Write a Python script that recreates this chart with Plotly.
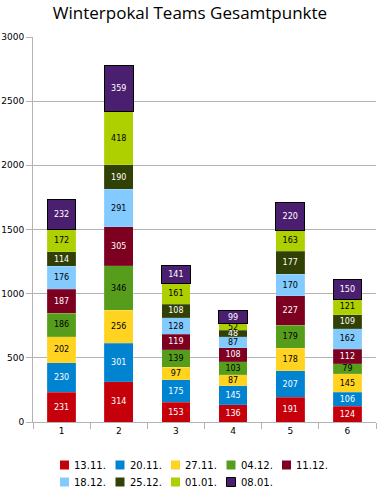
import plotly.graph_objects as go

categories = ["1", "2", "3", "4", "5", "6"]
series_names = ["13.11.", "20.11.", "27.11.", "04.12.", "11.12.", "18.12.", "25.12.", "01.01.", "08.01."]
s_1311 = [231, 314, 153, 136, 191, 124]
s_2011 = [230, 301, 175, 145, 207, 106]
s_2711 = [202, 256, 97, 87, 178, 145]
s_0412 = [186, 346, 139, 103, 179, 79]
s_1112 = [187, 305, 119, 108, 227, 112]
s_1812 = [176, 291, 128, 87, 170, 162]
s_2512 = [114, 190, 108, 48, 177, 109]
s_0101 = [172, 418, 161, 52, 163, 121]
s_0801 = [232, 359, 141, 99, 220, 150]
series_values = [s_1311, s_2011, s_2711, s_0412, s_1112, s_1812, s_2512, s_0101, s_0801]
y_ticks = [0, 500, 1000, 1500, 2000, 2500, 3000]

colors = ["#c5000b", "#0084d1", "#ffd320", "#579d1c", "#7e0021",
          "#83caff", "#314004", "#aecf00", "#4b1f6f"]
text_colors = ["white", "white", "black", "black", "white",
               "black", "white", "black", "white"]

W, H = 380, 488
ML, MR, MT, MB = 33, 4, 37, 66
PW, PH = W - ML - MR, H - MT - MB


def px_x(px):
    return (px - ML) / PW


def px_y(py):
    return (H - MB - py) / PH


fig = go.Figure()
for i, (name, vals) in enumerate(zip(series_names, series_values)):
    last = i == len(series_names) - 1
    fig.add_trace(go.Bar(
        x=categories, y=vals, name=name,
        marker=dict(color=colors[i],
                    line=dict(color="black" if last else "rgba(255,255,255,0.25)",
                              width=1 if last else 0.5)),
        text=[str(v) for v in vals],
        textposition="inside", insidetextanchor="middle", textangle=0,
        textfont=dict(color=text_colors[i], size=8, family="DejaVu Sans"),
    ))

# legend drawn as swatches + labels (5 per row, two rows)
shapes = []
annotations = []
for i, name in enumerate(series_names):
    row, col = divmod(i, 5)
    sx = 60 + col * 55.5
    sy = 465 + row * 17
    last = i == len(series_names) - 1
    shapes.append(dict(type="rect", xref="paper", yref="paper",
                       x0=px_x(sx), x1=px_x(sx + 9), y0=px_y(sy - 4.5), y1=px_y(sy + 4.5),
                       fillcolor=colors[i],
                       line=dict(color="black" if last else colors[i], width=1 if last else 0)))
    annotations.append(dict(xref="paper", yref="paper", x=px_x(sx + 12), y=px_y(sy),
                            xanchor="left", yanchor="middle", showarrow=False, text=name,
                            font=dict(family="DejaVu Sans", size=10, color="black")))

fig.update_layout(
    barmode="stack", bargap=0.5,
    width=W, height=H,
    margin=dict(l=ML, r=MR, t=MT, b=MB, autoexpand=False),
    paper_bgcolor="white", plot_bgcolor="white",
    uniformtext=dict(minsize=8, mode="show"),
    title=dict(text="Winterpokal Teams Gesamtpunkte", x=0.5, xanchor="center",
               y=1 - 13 / H, yanchor="middle",
               font=dict(family="Open Sans", size=17, color="black")),
    font=dict(family="DejaVu Sans", size=9, color="black"),
    showlegend=False,
    shapes=shapes,
    annotations=annotations,
)
fig.update_yaxes(range=[0, 3000], tickvals=y_ticks, showgrid=True, gridcolor="#b3b3b3",
                 gridwidth=1, showline=True, linecolor="#b3b3b3", ticks="outside",
                 ticklen=6, tickcolor="#b3b3b3", zeroline=False,
                 tickfont=dict(family="DejaVu Sans", size=9))
fig.update_xaxes(type="category", showline=True, linecolor="#b3b3b3", ticks="outside",
                 tickson="boundaries", ticklen=6, tickcolor="#b3b3b3", showgrid=False,
                 tickfont=dict(family="DejaVu Sans", size=9))

fig.write_html("out.html", config={"displayModeBar": False},
               post_script="document.body.style.margin='0';document.body.style.overflow='hidden';")
